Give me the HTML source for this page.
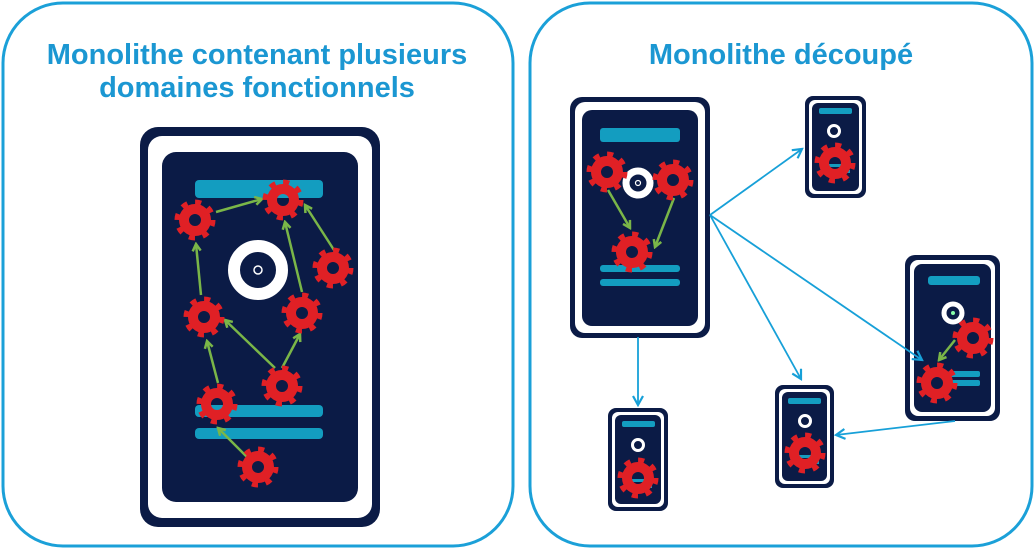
<!DOCTYPE html>
<html><head><meta charset="utf-8"><style>
html,body{margin:0;padding:0;background:#fff;}
svg{display:block;}
text{font-family:"Liberation Sans",sans-serif;font-weight:bold;fill:#1b97d2;font-size:29px;}
</style></head><body>
<svg width="1035" height="549" viewBox="0 0 1035 549" xmlns="http://www.w3.org/2000/svg">
<defs>
<g id="gear">
<circle r="11" fill="none" stroke="#e02025" stroke-width="10"/>
<circle r="17.5" fill="none" stroke="#e02025" stroke-width="6" stroke-dasharray="6 7.74"/>
</g>
<marker id="ga" markerWidth="10" markerHeight="10" refX="8" refY="5" orient="auto" markerUnits="userSpaceOnUse">
<path d="M1,1 L8,5 L1,9" fill="none" stroke="#7ab648" stroke-width="2.5"/>
</marker>
<marker id="ba" markerWidth="12" markerHeight="12" refX="10" refY="6" orient="auto" markerUnits="userSpaceOnUse">
<path d="M1,1 L10,6 L1,11" fill="none" stroke="#17a0d8" stroke-width="2.2"/>
</marker>
</defs>

<rect x="3" y="3" width="510" height="543" rx="60" fill="#fff" stroke="#1ba0d8" stroke-width="3"/>
<rect x="530" y="3" width="502" height="543" rx="60" fill="#fff" stroke="#1ba0d8" stroke-width="3"/>
<text x="257" y="64" text-anchor="middle">Monolithe contenant plusieurs</text>
<text x="257" y="97" text-anchor="middle">domaines fonctionnels</text>
<text x="781" y="64" text-anchor="middle">Monolithe découpé</text>

<!-- left big server -->
<rect x="140" y="127" width="240" height="400" rx="18" fill="#0b1b46"/>
<rect x="148" y="136" width="224" height="382" rx="14" fill="#fff"/>
<rect x="162" y="152" width="196" height="350" rx="14" fill="#0b1b46"/>
<rect x="195" y="180" width="128" height="18" rx="4" fill="#139dc0"/>
<rect x="195" y="405" width="128" height="12" rx="4" fill="#139dc0"/>
<rect x="195" y="428" width="128" height="11" rx="4" fill="#139dc0"/>
<circle cx="258" cy="270" r="24" fill="none" stroke="#fff" stroke-width="12"/>
<circle cx="258" cy="270" r="4" fill="none" stroke="#fff" stroke-width="1.5"/>
<g stroke="#7ab648" stroke-width="2.5" fill="none" marker-end="url(#ga)">
<line x1="216" y1="212" x2="262" y2="199"/>
<line x1="201" y1="295" x2="196" y2="244"/>
<line x1="218" y1="383" x2="207" y2="341"/>
<line x1="275" y1="368" x2="225" y2="320"/>
<line x1="282" y1="368" x2="300" y2="334"/>
<line x1="302" y1="292" x2="285" y2="222"/>
<line x1="334" y1="250" x2="305" y2="205"/>
<line x1="250" y1="460" x2="218" y2="428"/>
</g>
<use href="#gear" x="195" y="220"/>
<use href="#gear" x="283" y="200"/>
<use href="#gear" x="333" y="268"/>
<use href="#gear" x="204" y="317"/>
<use href="#gear" x="302" y="313"/>
<use href="#gear" x="217" y="404"/>
<use href="#gear" x="282" y="386"/>
<use href="#gear" x="258" y="467"/>

<!-- right big server -->
<rect x="570" y="97" width="140" height="241" rx="12" fill="#0b1b46"/>
<rect x="575" y="102" width="130" height="231" rx="10" fill="#fff"/>
<rect x="582" y="110" width="116" height="216" rx="10" fill="#0b1b46"/>
<rect x="600" y="128" width="80" height="14" rx="3" fill="#139dc0"/>
<rect x="600" y="265" width="80" height="7" rx="3" fill="#139dc0"/>
<rect x="600" y="279" width="80" height="7" rx="3" fill="#139dc0"/>
<circle cx="638" cy="183" r="12" fill="none" stroke="#fff" stroke-width="7"/>
<circle cx="638" cy="183" r="2.5" fill="none" stroke="#fff" stroke-width="1.2"/>
<g stroke="#7ab648" stroke-width="2.5" fill="none" marker-end="url(#ga)">
<line x1="608" y1="190" x2="630" y2="228"/>
<line x1="674" y1="198" x2="655" y2="247"/>
</g>
<use href="#gear" x="607" y="172"/>
<use href="#gear" x="673" y="180"/>
<use href="#gear" x="632" y="252"/>

<!-- small server top -->
<rect x="805" y="96" width="61" height="102" rx="8" fill="#0b1b46"/>
<rect x="809" y="100" width="53" height="94" rx="6" fill="#fff"/>
<rect x="812" y="103" width="47" height="88" rx="6" fill="#0b1b46"/>
<rect x="819" y="108" width="33" height="6" rx="2" fill="#139dc0"/>
<rect x="822" y="164" width="28" height="3" fill="#139dc0"/>
<rect x="822" y="170" width="28" height="3" fill="#139dc0"/>
<circle cx="834" cy="131" r="5.5" fill="none" stroke="#fff" stroke-width="3"/>
<g transform="translate(835,163)"><use href="#gear"/></g>

<!-- server 2 -->
<rect x="905" y="255" width="95" height="166" rx="10" fill="#0b1b46"/>
<rect x="910" y="260" width="85" height="156" rx="8" fill="#fff"/>
<rect x="914" y="264" width="77" height="148" rx="8" fill="#0b1b46"/>
<rect x="928" y="276" width="52" height="9" rx="3" fill="#139dc0"/>
<rect x="948" y="371" width="32" height="6" rx="2" fill="#139dc0"/>
<rect x="948" y="380" width="32" height="6" rx="2" fill="#139dc0"/>
<circle cx="953" cy="313" r="9" fill="none" stroke="#fff" stroke-width="5"/>
<circle cx="953" cy="313" r="2" fill="#8fa"/>
<line x1="955" y1="340" x2="939" y2="360" stroke="#7ab648" stroke-width="2.5" marker-end="url(#ga)"/>
<use href="#gear" x="973" y="338"/>
<use href="#gear" x="937" y="383"/>

<!-- server 3 -->
<rect x="775" y="385" width="59" height="103" rx="8" fill="#0b1b46"/>
<rect x="779" y="389" width="51" height="95" rx="6" fill="#fff"/>
<rect x="782" y="392" width="45" height="89" rx="6" fill="#0b1b46"/>
<rect x="788" y="398" width="33" height="6" rx="2" fill="#139dc0"/>
<rect x="793" y="455" width="26" height="3" fill="#139dc0"/>
<rect x="793" y="461" width="26" height="3" fill="#139dc0"/>
<circle cx="805" cy="421" r="5.5" fill="none" stroke="#fff" stroke-width="3"/>
<g transform="translate(805,453)"><use href="#gear"/></g>

<!-- server 4 -->
<rect x="608" y="408" width="60" height="103" rx="8" fill="#0b1b46"/>
<rect x="612" y="412" width="52" height="95" rx="6" fill="#fff"/>
<rect x="615" y="415" width="46" height="89" rx="6" fill="#0b1b46"/>
<rect x="622" y="421" width="33" height="6" rx="2" fill="#139dc0"/>
<rect x="626" y="479" width="26" height="3" fill="#139dc0"/>
<rect x="626" y="485" width="26" height="3" fill="#139dc0"/>
<circle cx="638" cy="445" r="5.5" fill="none" stroke="#fff" stroke-width="3"/>
<g transform="translate(638,478)"><use href="#gear"/></g>

<!-- blue arrows (on top) -->
<g stroke="#17a0d8" stroke-width="1.8" fill="none" marker-end="url(#ba)">
<line x1="710" y1="215" x2="802" y2="149"/>
<line x1="710" y1="215" x2="922" y2="360"/>
<line x1="710" y1="215" x2="801" y2="379"/>
<line x1="638" y1="337" x2="638" y2="405"/>
<line x1="955" y1="421" x2="836" y2="435"/>
</g>
</svg>
</body></html>
